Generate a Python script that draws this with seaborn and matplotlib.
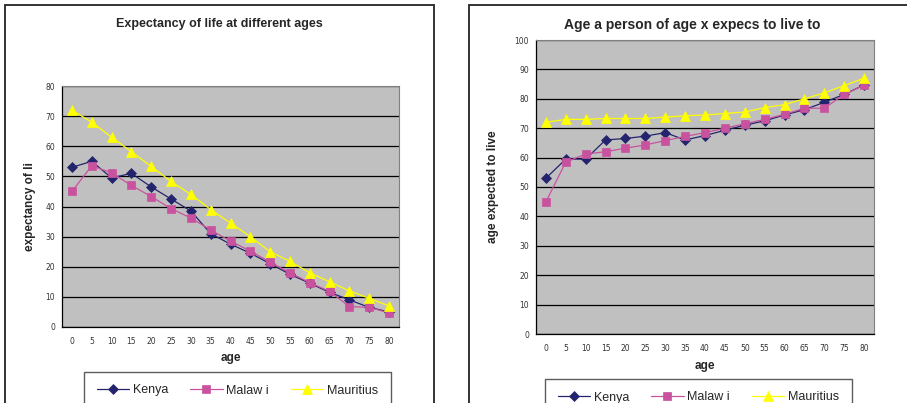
import pandas as pd
import seaborn as sns
import matplotlib.pyplot as plt
from matplotlib.patches import Rectangle
from matplotlib.lines import Line2D

# ages (category axis)
ages = [0, 5, 10, 15, 20, 25, 30, 35, 40, 45, 50, 55, 60, 65, 70, 75, 80]
countries = ["Kenya", "Malaw i", "Mauritius"]

# left chart: remaining life expectancy at age x
kenya_exp = [53, 55, 49.5, 51, 46.5, 42.5, 38.5, 31, 27.5, 24.5, 21, 17.5, 14.5, 11.5, 9, 6.5, 5]
malawi_exp = [45, 53.5, 51.2, 47, 43.3, 39.3, 36.2, 32.2, 28.5, 25.2, 21.5, 18, 14.7, 11.8, 6.8, 6.5, 4.7]
maur_exp = [72, 68, 63, 58.2, 53.3, 48.3, 44, 39, 34.5, 30, 25, 21.8, 18, 15, 12, 9.5, 7]

# right chart: age expected to live to
kenya_to = [53, 59.5, 59.5, 66, 66.5, 67.3, 68.5, 66, 67.5, 69.3, 71, 72.5, 74.5, 76.3, 78.8, 81.5, 84.7]
malawi_to = [45, 58.5, 61.2, 62, 63.2, 64.3, 65.8, 67.2, 68.5, 70, 71.5, 73, 74.7, 76.8, 76.8, 81.5, 84.7]
maur_to = [72, 73, 73, 73.3, 73.3, 73.3, 73.8, 74.2, 74.5, 75, 75.5, 77, 78, 80, 82, 84.5, 87]

colors = {"Kenya": "#24246e", "Malaw i": "#c9529f", "Mauritius": "#ffff00"}
markers = {"Kenya": "D", "Malaw i": "s", "Mauritius": "^"}
msizes = {"Kenya": 5, "Malaw i": 5.5, "Mauritius": 7}

W, H = 907, 403


def long_df(series):
    rows = []
    for name, vals in zip(countries, series):
        for i, v in enumerate(vals):
            rows.append({"pos": i, "value": v, "country": name})
    return pd.DataFrame(rows)


def fig_rect(x0, y0, x1, y1):
    return [x0 / W, 1 - y1 / H, (x1 - x0) / W, (y1 - y0) / H]


sns.set_style("white")
plt.rcParams["font.family"] = ["Liberation Sans", "DejaVu Sans"]
fig = plt.figure(figsize=(9.07, 4.03), dpi=100)
fig.patch.set_facecolor("white")

# panel frames
fig.patches.append(Rectangle((5 / W, -0.05), (434 - 5) / W, 1.05 - 5 / H, transform=fig.transFigure,
                             fill=False, edgecolor="#333333", lw=1.4, zorder=0))
fig.patches.append(Rectangle((469 / W, -0.05), 0.5, 1.05 - 5 / H, transform=fig.transFigure,
                             fill=False, edgecolor="#333333", lw=1.4, zorder=0))


def draw(ax, series, ymax, title, ylabel, title_size, title_y, ylabel_x, xlabel_y, legend_xy):
    df = long_df(series)
    sns.lineplot(data=df, x="pos", y="value", hue="country", style="country",
                 palette=colors, markers=markers, dashes=False, legend=False,
                 lw=0.9, ax=ax)
    for line, name in zip(ax.lines, countries):
        line.set_markeredgecolor(colors[name])
        line.set_markersize(msizes[name])
        line.set_markeredgewidth(0.5)
    ax.set_facecolor("#c0c0c0")
    ax.set_xlim(-0.5, len(ages) - 0.5)
    ax.set_ylim(0, ymax)
    ax.set_yticks(range(0, ymax + 1, 10))
    ax.yaxis.grid(True, color="black", lw=0.9)
    ax.set_axisbelow(True)
    # excel style category axis: ticks between categories, labels centred
    ax.set_xticks([i - 0.5 for i in range(len(ages) + 1)])
    ax.set_xticklabels([])
    ax.set_xticks(range(len(ages)), minor=True)
    ax.set_xticklabels([str(a) for a in ages], minor=True)
    ax.tick_params(axis="x", which="major", direction="out", length=3, width=0.8, color="black")
    ax.tick_params(axis="x", which="minor", length=0, pad=7, labelsize=5.5, labelcolor="#333333")
    ax.tick_params(axis="y", direction="out", length=3, width=0.8, color="black", pad=2,
                   labelsize=5.5, labelcolor="#333333")
    for lab in ax.get_xticklabels(minor=True) + ax.get_yticklabels():
        lab.set_family("DejaVu Sans")
    for side in ["top", "right"]:
        ax.spines[side].set_color("#808080")
        ax.spines[side].set_linewidth(0.8)
    for side in ["left", "bottom"]:
        ax.spines[side].set_color("black")
        ax.spines[side].set_linewidth(0.9)
    ax.set_xlabel("")
    ax.set_ylabel("")
    bb = ax.get_position()
    cx = bb.x0 + bb.width / 2
    fig.text(title[1] / W, 1 - title_y / H, title[0], ha="center", va="center",
             fontsize=title_size, fontweight="bold")
    fig.text(ylabel_x / W, bb.y0 + bb.height / 2, ylabel, rotation=90, ha="center", va="center",
             fontsize=8.5, fontweight="bold")
    fig.text(cx, 1 - xlabel_y / H, "age", ha="center", va="center", fontsize=8.5, fontweight="bold")
    handles = [Line2D([], [], color=colors[n], marker=markers[n], ms=msizes[n],
                      mec=colors[n], mew=0.5, lw=0.9) for n in countries]
    fig.legend(handles, countries, loc="upper left", ncol=3,
               bbox_to_anchor=(legend_xy[0] / W, 1 - legend_xy[1] / H), borderaxespad=0,
               frameon=True, fancybox=False, edgecolor="#333333", fontsize=9,
               handlelength=2.6, handletextpad=0.3, columnspacing=1.75, borderpad=1.0)


ax1 = fig.add_axes(fig_rect(62, 86, 399, 327))
draw(ax1, [kenya_exp, malawi_exp, maur_exp], 80,
     ("Expectancy of life at different ages", 219), "expectancy of li", 9, 24, 30, 358, (84, 372))

ax2 = fig.add_axes(fig_rect(536, 40, 874, 334))
draw(ax2, [kenya_to, malawi_to, maur_to], 100,
     ("Age a person of age x expecs to live to", 692), "age expected to live", 10, 25, 493, 366, (545, 379))

fig.savefig("out.png", dpi=100)
